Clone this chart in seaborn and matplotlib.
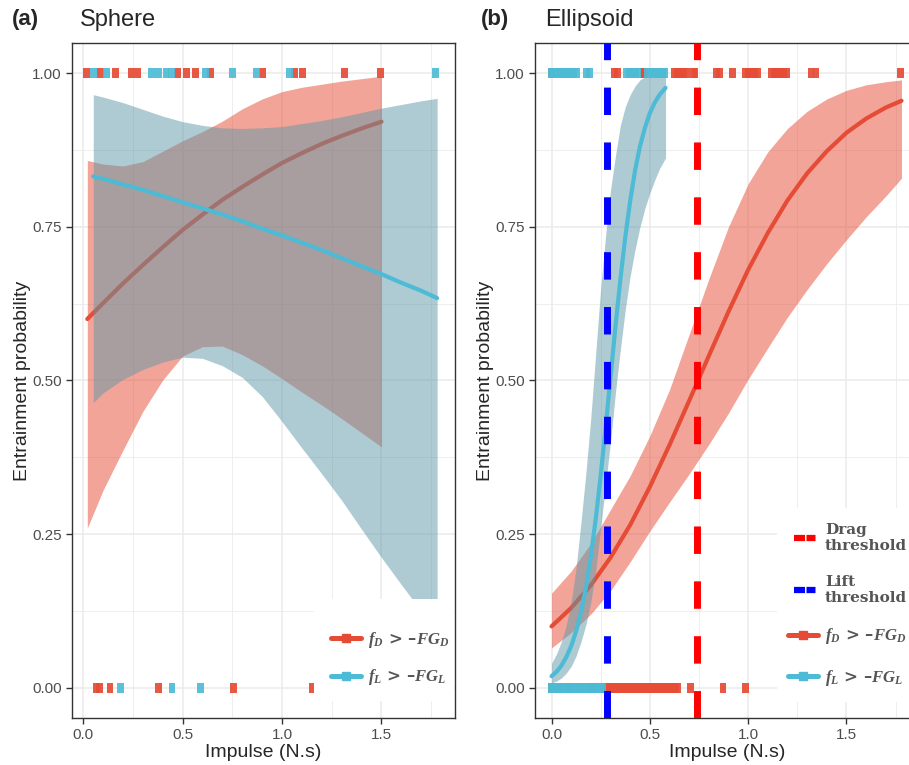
import matplotlib
matplotlib.use("Agg")
import numpy as np
import pandas as pd
import matplotlib.pyplot as plt
import seaborn as sns
from matplotlib.lines import Line2D
from matplotlib.patches import Rectangle
from matplotlib.ticker import MultipleLocator

# colours (ggsci npg style)
RED = "#E64B35"
BLUE = "#4DBBD5"
BLUE_FILL = "#5F97A6"

# ---------------- panel (a) Sphere ----------------
# impulses of entrained (1) / not entrained (0) events
a_drag_hit = [0.017, 0.087, 0.163, 0.240, 0.272, 0.473, 0.517, 0.563, 0.641,
              0.902, 1.063, 1.102, 1.313, 1.496]
a_drag_miss = [0.065, 0.080, 0.134, 0.379, 0.755, 1.154]
a_lift_hit = [0.049, 0.118, 0.344, 0.377, 0.416, 0.445, 0.616, 0.751, 0.872,
              1.036, 1.773]
a_lift_miss = [0.185, 0.446, 0.590]

# fitted logistic curves + confidence bands
a_drag_x = [0.02, 0.1, 0.2, 0.3, 0.4, 0.5, 0.6, 0.7, 0.8, 0.9, 1.0, 1.1, 1.2, 1.3, 1.4, 1.5]
a_drag_fit = [0.600, 0.626, 0.658, 0.688, 0.717, 0.745, 0.770, 0.794, 0.815, 0.835,
              0.854, 0.870, 0.885, 0.898, 0.910, 0.921]
a_drag_lo = [0.260, 0.322, 0.387, 0.450, 0.501, 0.540, 0.555, 0.556, 0.542, 0.524,
             0.503, 0.481, 0.460, 0.438, 0.415, 0.392]
a_drag_hi = [0.858, 0.852, 0.849, 0.856, 0.873, 0.890, 0.905, 0.922, 0.942, 0.958,
             0.970, 0.977, 0.982, 0.987, 0.991, 0.995]

a_lift_x = [0.05, 0.1, 0.2, 0.3, 0.4, 0.5, 0.6, 0.7, 0.8, 0.9, 1.0, 1.1, 1.2, 1.3,
            1.4, 1.5, 1.6, 1.7, 1.78]
a_lift_fit = [0.832, 0.828, 0.819, 0.810, 0.800, 0.790, 0.780, 0.770, 0.759, 0.747,
              0.736, 0.724, 0.712, 0.699, 0.686, 0.673, 0.659, 0.646, 0.634]
a_lift_lo = [0.464, 0.480, 0.502, 0.518, 0.530, 0.538, 0.536, 0.524, 0.505, 0.474,
             0.433, 0.390, 0.348, 0.305, 0.258, 0.212, 0.168, 0.125, 0.090]
a_lift_hi = [0.965, 0.961, 0.952, 0.941, 0.930, 0.921, 0.915, 0.911, 0.910, 0.911,
             0.913, 0.918, 0.923, 0.929, 0.936, 0.943, 0.949, 0.955, 0.959]

# ---------------- panel (b) Ellipsoid ----------------
b_drag_hit = [0.0, 0.32, 0.335, 0.465, 0.475, 0.625, 0.64, 0.655, 0.67, 0.685, 0.72, 0.73,
              0.84, 0.855, 0.92, 0.985, 1.0, 1.02, 1.035, 1.05, 1.12, 1.135, 1.15, 1.165,
              1.18, 1.195, 1.32, 1.345, 1.775]
b_drag_miss = [0.0, 0.04, 0.09, 0.15, 0.21, 0.27, 0.285, 0.3, 0.315, 0.33, 0.345, 0.36,
               0.375, 0.39, 0.405, 0.42, 0.435, 0.45, 0.465, 0.48, 0.495, 0.51, 0.525,
               0.54, 0.555, 0.57, 0.585, 0.6, 0.615, 0.63, 0.643, 0.705, 0.872, 0.988]
b_lift_hit = [0.0, 0.01, 0.02, 0.035, 0.045, 0.06, 0.075, 0.085, 0.1, 0.11, 0.125,
              0.18, 0.195, 0.38, 0.395, 0.41, 0.425, 0.44, 0.49, 0.505, 0.52, 0.535,
              0.55, 0.565, 0.576]
b_lift_miss = [0.0, 0.012, 0.025, 0.037, 0.05, 0.062, 0.075, 0.087, 0.1, 0.112, 0.125,
               0.137, 0.15, 0.162, 0.175, 0.187, 0.2, 0.212, 0.225, 0.237, 0.25, 0.258]

b_drag_x = [0.0, 0.1, 0.2, 0.3, 0.4, 0.5, 0.6, 0.7, 0.8, 0.9, 1.0, 1.1, 1.2, 1.3,
            1.4, 1.5, 1.6, 1.7, 1.78]
b_drag_fit = [0.100, 0.130, 0.167, 0.212, 0.265, 0.327, 0.395, 0.467, 0.540, 0.612,
              0.680, 0.740, 0.793, 0.837, 0.873, 0.903, 0.926, 0.944, 0.955]
b_drag_lo = [0.065, 0.090, 0.120, 0.158, 0.205, 0.255, 0.302, 0.348, 0.396, 0.447,
             0.502, 0.553, 0.603, 0.648, 0.690, 0.729, 0.766, 0.800, 0.829]
b_drag_hi = [0.154, 0.190, 0.235, 0.290, 0.345, 0.410, 0.485, 0.575, 0.665, 0.750,
             0.820, 0.872, 0.910, 0.938, 0.958, 0.972, 0.981, 0.986, 0.989]

b_lift_x = [0.0, 0.025, 0.05, 0.075, 0.1, 0.125, 0.15, 0.175, 0.2, 0.225, 0.25, 0.275,
            0.3, 0.325, 0.35, 0.375, 0.4, 0.425, 0.45, 0.475, 0.5, 0.525, 0.55, 0.58]
b_lift_fit = [0.019, 0.026, 0.036, 0.050, 0.068, 0.092, 0.123, 0.164, 0.214, 0.275,
              0.345, 0.423, 0.505, 0.587, 0.664, 0.733, 0.792, 0.842, 0.881, 0.911,
              0.935, 0.952, 0.965, 0.976]
b_lift_lo = [0.008, 0.011, 0.016, 0.024, 0.035, 0.052, 0.075, 0.103, 0.140, 0.190,
             0.260, 0.330, 0.400, 0.480, 0.550, 0.615, 0.670, 0.713, 0.750, 0.780,
             0.805, 0.826, 0.845, 0.862]
b_lift_hi = [0.040, 0.055, 0.075, 0.102, 0.140, 0.195, 0.270, 0.350, 0.440, 0.545,
             0.650, 0.735, 0.810, 0.865, 0.915, 0.945, 0.965, 0.979, 0.989, 0.994,
             0.997, 0.998, 0.998, 0.999]

drag_threshold = 0.74
lift_threshold = 0.284

sns.set_theme(style="white")
plt.rcParams["font.family"] = ["Liberation Sans", "DejaVu Sans"]
plt.rcParams["mathtext.fontset"] = "custom"
plt.rcParams["mathtext.it"] = "Liberation Serif:italic:bold"
plt.rcParams["mathtext.rm"] = "Liberation Serif:bold"

RUG_MARKER = [(-0.35, -0.5), (0.35, -0.5), (0.35, 0.5), (-0.35, 0.5)]


def rug_frame(hit, miss):
    return pd.DataFrame({"impulse": list(miss) + list(hit),
                         "entrained": [0] * len(miss) + [1] * len(hit)})


def style_axes(ax, xlim):
    ax.set_xlim(*xlim)
    ax.set_ylim(-0.049, 1.049)
    ax.xaxis.set_minor_locator(MultipleLocator(0.25))
    ax.yaxis.set_minor_locator(MultipleLocator(0.125))
    ax.set_xticks([0, 0.5, 1.0, 1.5])
    ax.set_xticklabels(["0.0", "0.5", "1.0", "1.5"])
    ax.set_yticks([0, 0.25, 0.5, 0.75, 1.0])
    ax.set_yticklabels(["0.00", "0.25", "0.50", "0.75", "1.00"])
    ax.grid(which="major", color="#EBEBEB", lw=1.1)
    ax.grid(which="minor", color="#EBEBEB", lw=0.6)
    ax.set_axisbelow(True)
    for s in ax.spines.values():
        s.set_color("#333333")
        s.set_linewidth(1.0)
    ax.tick_params(which="major", length=4, width=1, color="#333333",
                   labelsize=11, labelcolor="#4D4D4D", left=True, bottom=True)
    ax.tick_params(which="minor", length=0)
    ax.set_xlabel("Impulse (N.s)", fontsize=14, labelpad=1)
    ax.set_ylabel("Entrainment probability", fontsize=14, labelpad=1)


def draw_fit(ax, x, fit, lo, hi, line_color, fill_color, z):
    ax.fill_between(x, lo, hi, color=fill_color, alpha=0.5, lw=0, zorder=z)
    sns.lineplot(x=x, y=fit, ax=ax, color=line_color, lw=3, zorder=z + 0.1)


def draw_rug(ax, df, color):
    sns.scatterplot(data=df, x="impulse", y="entrained", ax=ax, color=color,
                    marker=RUG_MARKER, s=50, edgecolor="none", alpha=0.92,
                    zorder=3, legend=False)


def enlarge_math(leg, size=12):
    # the f_D / f_L labels are printed a bit larger than the threshold ones
    for t in leg.get_texts():
        if "$" in t.get_text():
            t.set_fontsize(size)


fig = plt.figure(figsize=(9.09, 7.65), dpi=100)
ax_a = fig.add_axes([72 / 909, 47 / 765, 383 / 909, 675 / 765])
ax_b = fig.add_axes([535 / 909, 47 / 765, 384 / 909, 675 / 765])

fit_handles = [
    Line2D([], [], color=RED, lw=3.6, marker="s", markersize=6),
    Line2D([], [], color=BLUE, lw=3.6, marker="s", markersize=6),
]
fit_labels = [r"$f_D$ > –$FG_D$", r"$f_L$ > –$FG_L$"]
legend_font = dict(family="DejaVu Serif", weight="bold", size=11)

# panel (a)
draw_fit(ax_a, a_drag_x, a_drag_fit, a_drag_lo, a_drag_hi, RED, RED, 1)
draw_fit(ax_a, a_lift_x, a_lift_fit, a_lift_lo, a_lift_hi, BLUE, BLUE_FILL, 2)
draw_rug(ax_a, rug_frame(a_drag_hit, a_drag_miss), RED)
draw_rug(ax_a, rug_frame(a_lift_hit, a_lift_miss), BLUE)
style_axes(ax_a, (-0.057, 1.87))
ax_a.add_patch(Rectangle((0.632, 0.025), 0.366, 0.151, transform=ax_a.transAxes,
                         facecolor="white", edgecolor="none", zorder=4.5))
leg = ax_a.legend(fit_handles, fit_labels, loc="upper left", bbox_to_anchor=(0.655, 0.142),
                  frameon=False, prop=legend_font, labelcolor="#555555",
                  handlelength=2.0, handletextpad=0.45, labelspacing=1.15, borderpad=0)
enlarge_math(leg)
leg.set_zorder(5)

# panel (b)
draw_fit(ax_b, b_drag_x, b_drag_fit, b_drag_lo, b_drag_hi, RED, RED, 1)
draw_fit(ax_b, b_lift_x, b_lift_fit, b_lift_lo, b_lift_hi, BLUE, BLUE_FILL, 2)
draw_rug(ax_b, rug_frame(b_drag_hit, b_drag_miss), RED)
draw_rug(ax_b, rug_frame(b_lift_hit, b_lift_miss), BLUE)
ax_b.axvline(drag_threshold, color="#FF0000", lw=5, dashes=(3.95, 3.95), zorder=4)
ax_b.axvline(lift_threshold, color="#0000FF", lw=5, dashes=(3.95, 3.95), zorder=4)
style_axes(ax_b, (-0.084, 1.869))
ax_b.add_patch(Rectangle((0.630, 0.024), 0.37, 0.287, transform=ax_b.transAxes,
                         facecolor="white", edgecolor="none", zorder=4.5))
thr_style = (4.8, (1.76, 0.24, 1.44, 2.32))
b_handles = [
    Line2D([], [], color="#FF0000", lw=4.5, linestyle=thr_style),
    Line2D([], [], color="#0000FF", lw=4.5, linestyle=thr_style),
] + fit_handles
b_labels = ["Drag\nthreshold", "Lift\nthreshold"] + fit_labels
leg = ax_b.legend(b_handles, b_labels, loc="upper left", bbox_to_anchor=(0.638, 0.30),
                  frameon=False, prop=legend_font, labelcolor="#555555",
                  handlelength=2.0, handletextpad=0.45, labelspacing=1.4, borderpad=0)
enlarge_math(leg)
leg.set_zorder(5)

# titles
fig.text(12 / 909, 1 - 20 / 765, "(a)", fontsize=16, fontweight="bold", va="center")
fig.text(80 / 909, 1 - 20 / 765, "Sphere", fontsize=17, va="center")
fig.text(481 / 909, 1 - 20 / 765, "(b)", fontsize=16, fontweight="bold", va="center")
fig.text(545 / 909, 1 - 20 / 765, "Ellipsoid", fontsize=17, va="center")

fig.savefig("out.png", dpi=100)
